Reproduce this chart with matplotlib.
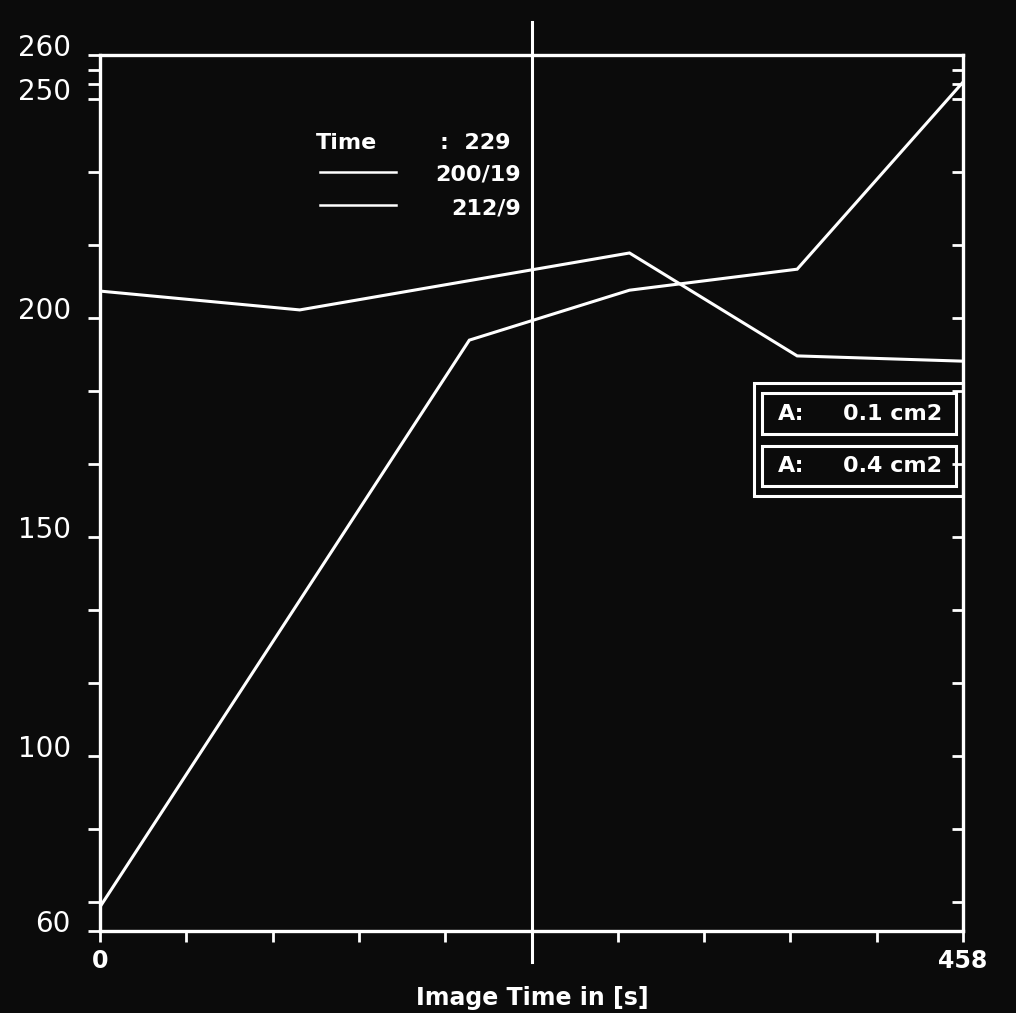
import matplotlib.pyplot as plt
import matplotlib.transforms as mtransforms
from matplotlib.lines import Line2D
from matplotlib.patches import Rectangle
import numpy as np

# curve 1 (ends low at right)
t_a = [0, 106, 281, 370, 458]
v_a = [206.1, 201.8, 214.8, 191.3, 190.1]
# curve 2 (rises from 65 to 254)
t_b = [0, 196, 281, 370, 458]
v_b = [65.5, 194.9, 206.3, 211.1, 253.8]

cursor_t = 229
t_max = 458
y_labels = [60, 100, 150, 200, 250, 260]
y_minor = [66.67, 83.33, 116.67, 133.33, 166.67, 183.33,
           216.67, 233.33, 253.33, 256.67]
legend_vals = ['200/19', '212/9']
areas = ['0.1 cm2', '0.4 cm2']

W, H = 1016, 1013
bg = '#0b0b0b'
fg = 'white'
cond = ['Liberation Sans Narrow', 'DejaVu Sans']

def fx(px):
    return px / W

def fy(py):
    return 1 - py / H

fig = plt.figure(figsize=(W / 100, H / 100), dpi=100, facecolor=bg)
ax = fig.add_axes([fx(100), fy(931), fx(963) - fx(100), fy(55) - fy(931)])
ax.set_facecolor(bg)

ax.plot(t_a, v_a, color=fg, lw=2.2, solid_joinstyle='miter')
ax.plot(t_b, v_b, color=fg, lw=2.2, solid_joinstyle='miter')
ax.axvline(cursor_t, ymin=-0.035, ymax=1.038, color=fg, lw=2.2, clip_on=False)

ax.set_xlim(0, t_max)
ax.set_ylim(60, 260)
for s in ax.spines.values():
    s.set_color(fg)
    s.set_linewidth(2.4)

ax.set_xticks(np.linspace(0, t_max, 11))
ax.set_xticklabels(['0'] + [''] * 9 + [str(t_max)])
ax.tick_params(axis='x', direction='out', length=8, width=2, color=fg,
               labelcolor=fg, pad=5)
for lbl in ax.get_xticklabels():
    lbl.set_fontfamily(cond)
    lbl.set_fontweight('bold')
    lbl.set_fontsize(17)

ax.set_yticks(y_labels)
ax.set_yticklabels([str(v) for v in y_labels])
ax.set_yticks(y_minor, minor=True)
ax.tick_params(axis='y', which='both', direction='out', length=9, width=2,
               color=fg, labelcolor=fg, pad=12, labelsize=20)
shift = mtransforms.ScaledTranslation(0, 0.1, fig.dpi_scale_trans)
for lbl in ax.get_yticklabels():
    lbl.set_transform(lbl.get_transform() + shift)

# inward ticks on the right edge
ax_r = ax.twinx()
ax_r.set_ylim(60, 260)
ax_r.set_yticks(y_labels)
ax_r.set_yticks(y_minor, minor=True)
ax_r.tick_params(axis='y', which='both', direction='in', length=8, width=2,
                 color=fg, labelright=False)
for s in ax_r.spines.values():
    s.set_visible(False)

fig.text(fx(532), fy(998), 'Image Time in [s]', color=fg, fontsize=17,
         fontweight='bold', family=cond, ha='center', va='center')

# legend-like block
fig.text(fx(316), fy(143), 'Time', color=fg, fontsize=16, fontweight='bold',
         family=cond, va='center', ha='left')
fig.text(fx(510), fy(143), ':  ' + str(cursor_t), color=fg, fontsize=16,
         fontweight='bold', family=cond, va='center', ha='right')
for i, txt in enumerate(legend_vals):
    y = [172, 205][i]
    fig.add_artist(Line2D([fx(320), fx(396)], [fy(y), fy(y)], color=fg, lw=1.8))
    fig.text(fx(521), fy(y + 3), txt, color=fg, fontsize=16, fontweight='bold',
             family=cond, va='center', ha='right')

# area boxes
fig.add_artist(Rectangle((fx(754), fy(496)), fx(963) - fx(754), fy(383) - fy(496),
                         fill=False, edgecolor=fg, lw=2.2))
for i, txt in enumerate(areas):
    top, bot = [(393, 434), (446, 486)][i]
    fig.add_artist(Rectangle((fx(762), fy(bot)), fx(956) - fx(762), fy(top) - fy(bot),
                             fill=False, edgecolor=fg, lw=2.2))
    yc = fy((top + bot) / 2)
    fig.text(fx(778), yc, 'A:', color=fg, fontsize=16, fontweight='bold',
             family=cond, va='center', ha='left')
    fig.text(fx(942), yc, txt, color=fg, fontsize=16, fontweight='bold',
             family=cond, va='center', ha='right')

fig.savefig('out.png', dpi=100, facecolor=bg)
